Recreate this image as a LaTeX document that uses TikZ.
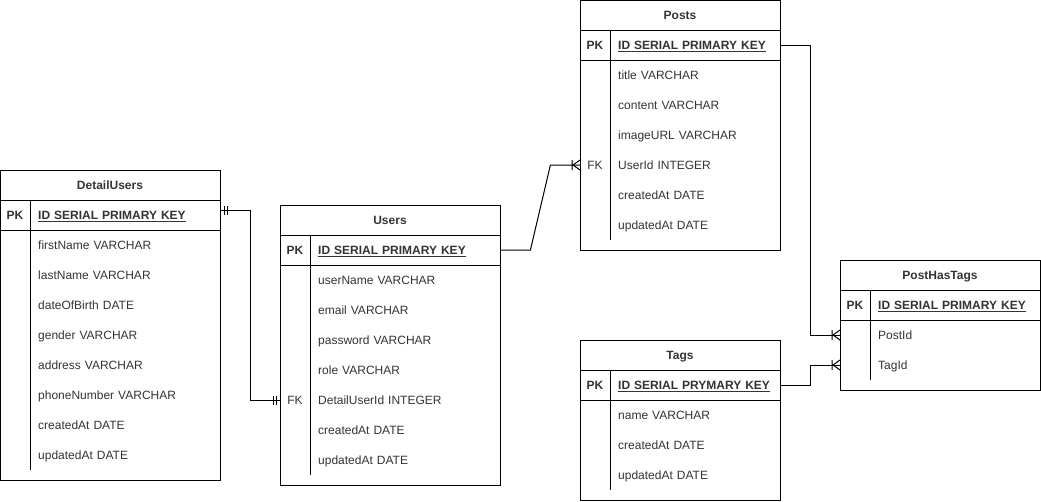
\documentclass[tikz,border=0pt,12pt]{standalone}
\usepackage{fontspec}
\setmainfont{Liberation Sans}
\usetikzlibrary{decorations.markings}

\tikzset{
  every node/.style={text=black!80, text height=10.5pt, text depth=1.5pt},
  tbl/.style={draw=black, line width=1pt, anchor=north west, inner sep=0pt, text height=, text depth=},
  ttl/.style={font=\bfseries},
  pkey/.style={font=\bfseries, minimum width=30pt, inner sep=0pt},
  fkey/.style={minimum width=30pt, inner sep=0pt},
  fld/.style={anchor=west, inner xsep=0pt, align=left},
  conn/.style={line width=1pt},
  onestart/.style={postaction={decorate,decoration={markings,
      mark=at position 0 with {\draw[line width=1pt] (4pt,-4.5pt) -- (4pt,4.5pt) (7pt,-4.5pt) -- (7pt,4.5pt);}}}},
  oneend/.style={postaction={decorate,decoration={markings,
      mark=at position 1 with {\draw[line width=1pt] (-4pt,-4.5pt) -- (-4pt,4.5pt) (-7pt,-4.5pt) -- (-7pt,4.5pt);}}}},
  manyend/.style={postaction={decorate,decoration={markings,
      mark=at position 1 with {\draw[line width=1pt] (-8pt,-5pt) -- (-8pt,5pt) (-7pt,0pt) -- (0pt,5pt) (-7pt,0pt) -- (0pt,-5pt);}}}},
}

\begin{document}
\begin{tikzpicture}[x=1pt,y=-1pt]
        \useasboundingbox (0,0) rectangle (1041,501);

        % DetailUsers
        \node[tbl, minimum width=220pt, minimum height=310pt] (du) at (0,170) {};
        \draw[line width=1pt] (0,200) -- (220,200);
        \draw[line width=1pt] (0,230) -- (220,230);
        \draw[line width=1pt] (30,200) -- (30,470);
        \node[ttl] (du-title) at (110,185) {DetailUsers};
        \node[pkey] (du-pkk) at (15,215) {PK};
        \node[fld, text width=182pt, font=\bfseries] (du-pk) at (38,215) {\underline{ID SERIAL PRIMARY KEY}};
        \node[fld, text width=182pt] (du-first) at (38,245) {firstName VARCHAR};
        \node[fld, text width=182pt] (du-last) at (38,275) {lastName VARCHAR};
        \node[fld, text width=182pt] (du-birth) at (38,305) {dateOfBirth DATE};
        \node[fld, text width=182pt] (du-gender) at (38,335) {gender VARCHAR};
        \node[fld, text width=182pt] (du-addr) at (38,365) {address VARCHAR};
        \node[fld, text width=182pt] (du-phone) at (38,395) {phoneNumber VARCHAR};
        \node[fld, text width=182pt] (du-created) at (38,425) {createdAt DATE};
        \node[fld, text width=182pt] (du-updated) at (38,455) {updatedAt DATE};

        % Users
        \node[tbl, minimum width=220pt, minimum height=280pt] (users) at (280,205) {};
        \draw[line width=1pt] (280,235) -- (500,235);
        \draw[line width=1pt] (280,265) -- (500,265);
        \draw[line width=1pt] (310,235) -- (310,475);
        \node[ttl] (users-title) at (390,220) {Users};
        \node[pkey] (users-pkk) at (295,250) {PK};
        \node[fld, text width=182pt, font=\bfseries] (users-pk) at (318,250) {\underline{ID SERIAL PRIMARY KEY}};
        \node[fld, text width=182pt] (users-name) at (318,280) {userName VARCHAR};
        \node[fld, text width=182pt] (users-email) at (318,310) {email VARCHAR};
        \node[fld, text width=182pt] (users-pass) at (318,340) {password VARCHAR};
        \node[fld, text width=182pt] (users-role) at (318,370) {role VARCHAR};
        \node[fkey] (users-fkk) at (295,400) {FK};
        \node[fld, text width=182pt] (users-fk) at (318,400) {DetailUserId INTEGER};
        \node[fld, text width=182pt] (users-created) at (318,430) {createdAt DATE};
        \node[fld, text width=182pt] (users-updated) at (318,460) {updatedAt DATE};

        % Posts
        \node[tbl, minimum width=200pt, minimum height=250pt] (posts) at (580,0) {};
        \draw[line width=1pt] (580,30) -- (780,30);
        \draw[line width=1pt] (580,60) -- (780,60);
        \draw[line width=1pt] (610,30) -- (610,240);
        \node[ttl] (posts-title) at (680,15) {Posts};
        \node[pkey] (posts-pkk) at (595,45) {PK};
        \node[fld, text width=162pt, font=\bfseries] (posts-pk) at (618,45) {\underline{ID SERIAL PRIMARY KEY}};
        \node[fld, text width=162pt] (posts-ttl) at (618,75) {title VARCHAR};
        \node[fld, text width=162pt] (posts-content) at (618,105) {content VARCHAR};
        \node[fld, text width=162pt] (posts-img) at (618,135) {imageURL VARCHAR};
        \node[fkey] (posts-fkk) at (595,165) {FK};
        \node[fld, text width=162pt] (posts-fk) at (618,165) {UserId INTEGER};
        \node[fld, text width=162pt] (posts-created) at (618,195) {createdAt DATE};
        \node[fld, text width=162pt] (posts-updated) at (618,225) {updatedAt DATE};

        % PostHasTags
        \node[tbl, minimum width=200pt, minimum height=130pt] (pht) at (840,260) {};
        \draw[line width=1pt] (840,290) -- (1040,290);
        \draw[line width=1pt] (840,320) -- (1040,320);
        \draw[line width=1pt] (870,290) -- (870,380);
        \node[ttl] (pht-title) at (940,275) {PostHasTags};
        \node[pkey] (pht-pkk) at (855,305) {PK};
        \node[fld, text width=162pt, font=\bfseries] (pht-pk) at (878,305) {\underline{ID SERIAL PRIMARY KEY}};
        \node[fld, text width=162pt] (pht-postid) at (878,335) {PostId};
        \node[fld, text width=162pt] (pht-tagid) at (878,365) {TagId};

        % Tags
        \node[tbl, minimum width=200pt, minimum height=160pt] (tags) at (580,340) {};
        \draw[line width=1pt] (580,370) -- (780,370);
        \draw[line width=1pt] (580,400) -- (780,400);
        \draw[line width=1pt] (610,370) -- (610,490);
        \node[ttl] (tags-title) at (680,355) {Tags};
        \node[pkey] (tags-pkk) at (595,385) {PK};
        \node[fld, text width=162pt, font=\bfseries] (tags-pk) at (618,385) {\underline{ID SERIAL PRYMARY KEY}};
        \node[fld, text width=162pt] (tags-name) at (618,415) {name VARCHAR};
        \node[fld, text width=162pt] (tags-created) at (618,445) {createdAt DATE};
        \node[fld, text width=162pt] (tags-updated) at (618,475) {updatedAt DATE};

        % relations
        \draw[conn, onestart, oneend] ([yshift=5pt]du-pk.east) -- ++(30,0) |- (users.west |- users-fk);
        \draw[conn, manyend] (users-pk.east) -- ++(30,0) -- ++(20,-85) -- (posts.west |- posts-fk);
        \draw[conn, manyend] (posts-pk.east) -- ++(30,0) |- (pht.west |- pht-postid);
        \draw[conn, manyend] (tags-pk.east) -- ++(30,0) |- (pht.west |- pht-tagid);
\end{tikzpicture}
\end{document}
